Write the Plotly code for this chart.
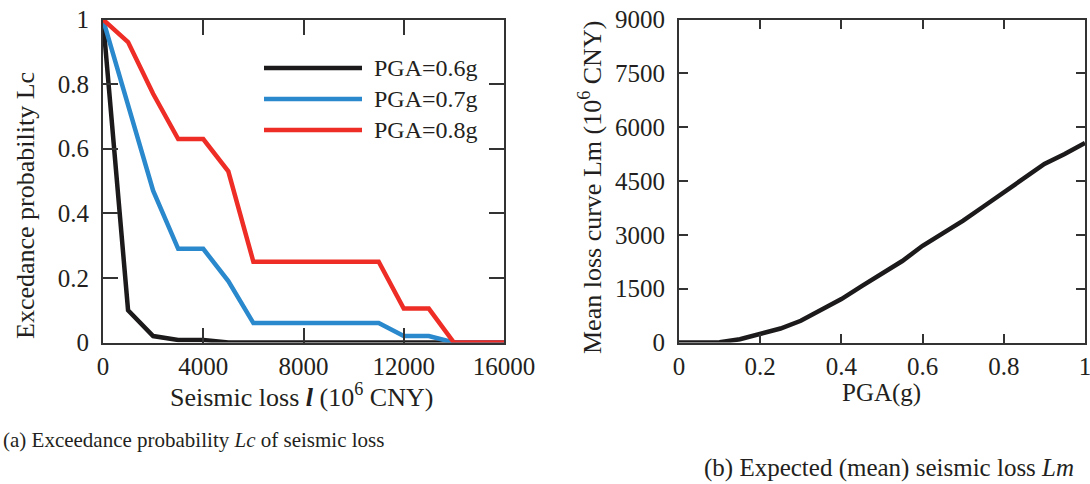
import plotly.graph_objects as go

# Panel (a): exceedance probability vs seismic loss (10^6 CNY)
loss = [0, 1000, 2000, 3000, 4000, 5000, 6000, 7000, 8000, 9000, 10000, 11000, 12000, 13000, 14000, 15000, 16000]
lc_06 = [1.0, 0.10, 0.02, 0.008, 0.008, 0.0, 0.0, 0.0, 0.0, 0.0, 0.0, 0.0, 0.0, 0.0, 0.0, 0.0, 0.0]
lc_07 = [1.0, 0.73, 0.47, 0.29, 0.29, 0.19, 0.06, 0.06, 0.06, 0.06, 0.06, 0.06, 0.02, 0.02, 0.0, 0.0, 0.0]
lc_08 = [1.0, 0.93, 0.77, 0.63, 0.63, 0.53, 0.25, 0.25, 0.25, 0.25, 0.25, 0.25, 0.105, 0.105, 0.0, 0.0, 0.0]
series_names = ["PGA=0.6g", "PGA=0.7g", "PGA=0.8g"]
series_colors = ["#1c1a1b", "#2a88cc", "#ee2d27"]

# Panel (b): mean loss vs PGA
pga = [0.0, 0.05, 0.1, 0.15, 0.2, 0.25, 0.3, 0.35, 0.4, 0.45, 0.5, 0.55, 0.6, 0.65, 0.7, 0.75, 0.8, 0.85, 0.9, 0.95, 1.0]
lm = [0, 0, 5, 90, 230, 390, 605, 900, 1210, 1570, 1905, 2270, 2695, 3050, 3395, 3790, 4185, 4560, 4975, 5250, 5560]

x_ticks_a = [0, 4000, 8000, 12000, 16000]
y_ticks_a = [0, 0.2, 0.4, 0.6, 0.8, 1]
x_ticks_b = [0, 0.2, 0.4, 0.6, 0.8, 1]
y_ticks_b = [0, 1500, 3000, 4500, 6000, 7500, 9000]

W, H = 1090, 484
FONT = "Liberation Serif"
AX = "#333333"
TXT = "#231f20"

def px(x):
    return x / W

def py(y):
    return 1 - y / H

fig = go.Figure()
for vals, name, col in zip([lc_06, lc_07, lc_08], series_names, series_colors):
    fig.add_trace(go.Scatter(x=loss, y=vals, mode="lines", name=name,
                             line=dict(color=col, width=4.5), xaxis="x", yaxis="y",
                             showlegend=False))
fig.add_trace(go.Scatter(x=pga, y=lm, mode="lines", line=dict(color="#1c1a1b", width=4.5),
                         xaxis="x2", yaxis="y2", showlegend=False))

ydom = [py(342.5), py(19.5)]
common = dict(showgrid=False, zeroline=False, showline=True, linecolor=AX, linewidth=2,
              mirror="ticks", ticks="inside", tickcolor=AX, tickwidth=1.5, automargin=False,
              ticklabeloverflow="allow",
              tickfont=dict(family=FONT, size=25, color=TXT))

fig.update_layout(
    width=W, height=H, margin=dict(l=0, r=0, t=0, b=0, autoexpand=False),
    paper_bgcolor="white", plot_bgcolor="white",
    xaxis=dict(domain=[px(103), px(504)], range=[0, 16000], tickvals=x_ticks_a,
               tickformat="d", ticklen=15, anchor="y", ticklabelstandoff=0, **common),
    yaxis=dict(domain=ydom, range=[0, 1], tickvals=y_ticks_a, ticklen=15,
               anchor="x", ticklabelstandoff=7, **common),
    xaxis2=dict(domain=[px(679), px(1085)], range=[0, 1], tickvals=x_ticks_b,
                ticklen=9, anchor="y2", ticklabelstandoff=0, **common),
    yaxis2=dict(domain=ydom, range=[0, 9000], tickvals=y_ticks_b, tickformat="d",
                ticklen=9, anchor="x2", ticklabelstandoff=7, **common),
)

# legend drawn as shapes + text inside panel (a)
leg_y = [68, 99, 130]
shapes = []
annotations = []
for yy, name, col in zip(leg_y, series_names, series_colors):
    shapes.append(dict(type="line", xref="paper", yref="paper", x0=px(264), x1=px(362),
                       y0=py(yy), y1=py(yy), line=dict(color=col, width=4.5)))
    annotations.append(dict(text=name, xref="paper", yref="paper", x=px(372), y=py(yy),
                            xanchor="left", yanchor="middle", showarrow=False,
                            font=dict(family=FONT, size=24, color=TXT)))

tf = dict(family=FONT, size=26, color=TXT)
annotations += [
    dict(text="Excedance probability Lc", xref="paper", yref="paper", x=px(25), y=py(206),
         textangle=-90, showarrow=False, font=tf, xanchor="center", yanchor="middle"),
    dict(text="Seismic loss <b><i>l</i></b> (10<sup>6</sup> CNY)", xref="paper", yref="paper",
         x=px(301), y=py(395), showarrow=False, font=tf, xanchor="center", yanchor="middle"),
    dict(text="Mean loss curve Lm (10<sup>6</sup> CNY)", xref="paper", yref="paper", x=px(590), y=py(188),
         textangle=-90, showarrow=False, font=tf, xanchor="center", yanchor="middle"),
    dict(text="PGA(g)", xref="paper", yref="paper", x=px(881), y=py(393), showarrow=False,
         font=dict(family=FONT, size=25, color=TXT), xanchor="center", yanchor="middle"),
    dict(text="(a) Exceedance probability <i>Lc</i> of seismic loss", xref="paper", yref="paper",
         x=px(193), y=py(440), showarrow=False, font=dict(family=FONT, size=21, color=TXT),
         xanchor="center", yanchor="middle"),
    dict(text="(b) Expected (mean) seismic loss <i>Lm</i>", xref="paper", yref="paper",
         x=px(889), y=py(468), showarrow=False, font=dict(family=FONT, size=25, color=TXT),
         xanchor="center", yanchor="middle"),
]
fig.update_layout(shapes=shapes, annotations=annotations)

fig.write_html("out.html")
